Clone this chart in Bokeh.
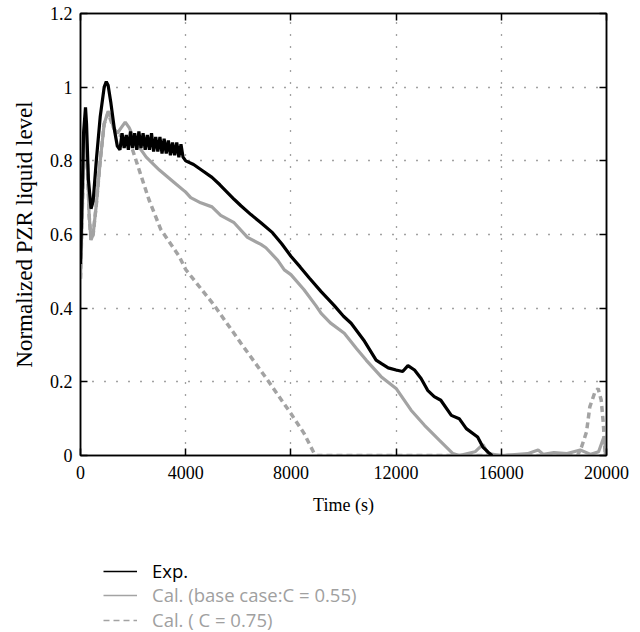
from bokeh.plotting import figure
from bokeh.layouts import column
from bokeh.models import (FixedTicker, LinearAxis, Legend, LegendItem, Range1d)
from bokeh.embed import file_html
from bokeh.resources import INLINE

# ---------------- data ----------------
x_ticks = [0, 4000, 8000, 12000, 16000, 20000]
y_ticks = [0, 0.2, 0.4, 0.6, 0.8, 1, 1.2]
y_tick_labels = ["0", "0.2", "0.4", "0.6", "0.8", "1", "1.2"]

exp_t = [0, 60, 120, 190, 230, 300, 400, 480, 600, 750, 900, 980, 1050, 1150,
         1300, 1400, 1500, 1580, 1660, 1740, 1820, 1900, 1980, 2060, 2140, 2220,
         2300, 2380, 2460, 2540, 2620, 2700, 2780, 2860, 2940, 3020, 3100, 3180,
         3260, 3340, 3420, 3500, 3580, 3660, 3740, 3820, 3900, 4000, 4300, 4600,
         5000, 5300, 5850, 6100, 6480, 6860, 7300, 7650, 8000, 8350, 8700, 9150,
         9650, 10000, 10290, 10800, 11240, 11430, 11700, 12000, 12250, 12450,
         12700, 12950, 13200, 13450, 13700, 14100, 14400, 14670, 15100, 15300,
         15500, 15650]
exp_v = [0.52, 0.70, 0.88, 0.945, 0.90, 0.75, 0.67, 0.69, 0.80, 0.92, 1.00, 1.015,
         1.005, 0.96, 0.88, 0.84, 0.83, 0.875, 0.835, 0.87, 0.83, 0.88, 0.835,
         0.875, 0.83, 0.88, 0.835, 0.875, 0.83, 0.87, 0.83, 0.875, 0.825, 0.865,
         0.825, 0.865, 0.82, 0.86, 0.82, 0.855, 0.815, 0.85, 0.815, 0.85, 0.81,
         0.845, 0.81, 0.80, 0.79, 0.775, 0.755, 0.735, 0.695, 0.678, 0.654, 0.632,
         0.605, 0.575, 0.541, 0.512, 0.482, 0.445, 0.407, 0.378, 0.359, 0.31,
         0.259, 0.25, 0.238, 0.232, 0.228, 0.244, 0.232, 0.209, 0.177, 0.16, 0.15,
         0.109, 0.10, 0.073, 0.05, 0.023, 0.009, 0.0]

base_t = [0, 80, 150, 200, 260, 330, 400, 480, 600, 750, 900, 1050, 1150, 1250,
          1400, 1550, 1700, 1850, 2100, 2500, 3000, 3550, 4000, 4190, 4570, 5000,
          5330, 5840, 6350, 6860, 7050, 7500, 7750, 8000, 8500, 8950, 9150, 9500,
          10030, 10500, 10860, 11430, 12000, 12570, 13080, 13650, 14160, 14400,
          15000, 15300, 15500, 16000, 17000, 17400, 17600, 18000, 18500, 19000,
          19400, 19700, 19900, 20000]
base_v = [0.48, 0.70, 0.85, 0.88, 0.80, 0.65, 0.585, 0.60, 0.68, 0.80, 0.90,
          0.935, 0.92, 0.89, 0.875, 0.89, 0.905, 0.89, 0.85, 0.81, 0.775, 0.742,
          0.715, 0.70, 0.686, 0.675, 0.652, 0.632, 0.592, 0.573, 0.564, 0.53,
          0.504, 0.491, 0.45, 0.407, 0.386, 0.36, 0.332, 0.29, 0.259, 0.214,
          0.182, 0.123, 0.082, 0.041, 0.005, 0.0, 0.01, 0.03, 0.005, 0.0, 0.005,
          0.015, 0.003, 0.008, 0.005, 0.015, 0.003, 0.01, 0.05, 0.0]

c75_t = [0, 80, 150, 200, 260, 330, 400, 480, 600, 750, 900, 1050, 1200, 1350,
         1500, 1650, 1970, 2600, 3050, 3750, 4000, 5080, 6100, 7110, 8000, 8500,
         8890, 9000, 18900, 19050, 19240, 19365, 19550, 19680, 19800, 19880,
         19950, 20000]
c75_v = [0.48, 0.70, 0.85, 0.88, 0.80, 0.65, 0.585, 0.60, 0.68, 0.80, 0.90,
         0.93, 0.90, 0.875, 0.87, 0.859, 0.832, 0.695, 0.614, 0.541, 0.505,
         0.408, 0.305, 0.205, 0.114, 0.06, 0.005, 0.0, 0.0, 0.023, 0.064, 0.132,
         0.17, 0.182, 0.15, 0.086, 0.0, 0.05]

labels = ["Exp.", "Cal. (base case:C = 0.55)", "Cal. ( C = 0.75)"]

# ---------------- main figure ----------------
GREY = "#a3a3a3"
SERIF = "Liberation Serif"
SANS = "Open Sans"

p = figure(width=640, height=540, output_backend="svg", toolbar_location=None,
           x_range=Range1d(0, 20000), y_range=Range1d(0, 1.2),
           x_axis_label="Time (s)", y_axis_label="Normalized PZR liquid level",
           min_border_left=80, min_border_right=34, min_border_top=13,
           min_border_bottom=85)
p.outline_line_color = "black"
p.outline_line_width = 1.5
p.background_fill_color = "white"
p.border_fill_color = "white"

p.line(c75_t, c75_v, color=GREY, line_width=3.5, line_dash="6 4")
p.line(base_t, base_v, color=GREY, line_width=3.2)
p.line(exp_t, exp_v, color="black", line_width=3.2)

for ax in (p.xaxis[0], p.yaxis[0]):
    ax.major_tick_in = 7
    ax.major_tick_out = 0
    ax.minor_tick_line_color = None
    ax.axis_line_width = 1.5
    ax.major_tick_line_width = 1.5
    ax.major_label_text_font = SERIF
    ax.major_label_text_font_size = "18px"
    ax.axis_label_text_font = SERIF
    ax.axis_label_text_font_style = "normal"
    ax.major_label_text_color = "black"
    ax.axis_label_text_color = "black"

p.xaxis[0].axis_label_text_font_size = "18px"
p.yaxis[0].axis_label_text_font_size = "23px"
p.xaxis[0].ticker = FixedTicker(ticks=x_ticks)
p.yaxis[0].ticker = FixedTicker(ticks=y_ticks)
p.yaxis[0].major_label_overrides = {t: s for t, s in zip(y_ticks, y_tick_labels)}
p.xaxis[0].major_label_standoff = 10
p.xaxis[0].axis_label_standoff = 13
p.yaxis[0].major_label_standoff = 8
p.yaxis[0].axis_label_standoff = 10

for side, ticks in (("above", x_ticks), ("right", y_ticks)):
    a = LinearAxis(ticker=FixedTicker(ticks=ticks), major_tick_in=7,
                   major_tick_out=0, minor_tick_line_color=None,
                   major_label_overrides={t: "" for t in ticks},
                   major_label_standoff=0,
                   axis_line_width=1.5, major_tick_line_width=1.5)
    p.add_layout(a, side)

p.xgrid.ticker = FixedTicker(ticks=x_ticks)
p.ygrid.ticker = FixedTicker(ticks=y_ticks)
for g in (p.xgrid[0], p.ygrid[0]):
    g.grid_line_color = "#444444"
    g.grid_line_width = 1.3
    g.grid_line_dash = "1 11"

# ---------------- legend strip ----------------
q = figure(width=640, height=92, output_backend="svg", toolbar_location=None,
           x_range=Range1d(30000, 30001), y_range=Range1d(0, 1.2),
           x_axis_location=None, y_axis_location=None,
           min_border_left=0, min_border_right=0, min_border_top=0,
           min_border_bottom=0)
q.outline_line_color = None
q.xgrid.visible = False
q.ygrid.visible = False
r_exp_l = q.line(exp_t, exp_v, color="black", line_width=1.3)
r_base_l = q.line(base_t, base_v, color=GREY, line_width=1.3)
r_c75_l = q.line(c75_t, c75_v, color=GREY, line_width=1.3, line_dash="6 4")

common = dict(orientation="vertical", padding=0, margin=0, spacing=0,
              glyph_width=34, glyph_height=20, label_height=20,
              label_standoff=15, border_line_color=None,
              background_fill_alpha=0, label_text_font=SANS,
              label_text_font_size="18.5px")
legend1 = Legend(items=[LegendItem(label=labels[0], renderers=[r_exp_l])],
                 location=(23, 49), label_text_color="black", **common)
legend2 = Legend(items=[LegendItem(label=labels[1], renderers=[r_base_l]),
                        LegendItem(label=labels[2], renderers=[r_c75_l])],
                 location=(23, 0), label_text_color="#a0a0a0", **common)
q.add_layout(legend1, "center")
q.add_layout(legend2, "center")

layout = column(p, q, spacing=0)
html = file_html(layout, INLINE)
open("out.html", "w").write(html)
